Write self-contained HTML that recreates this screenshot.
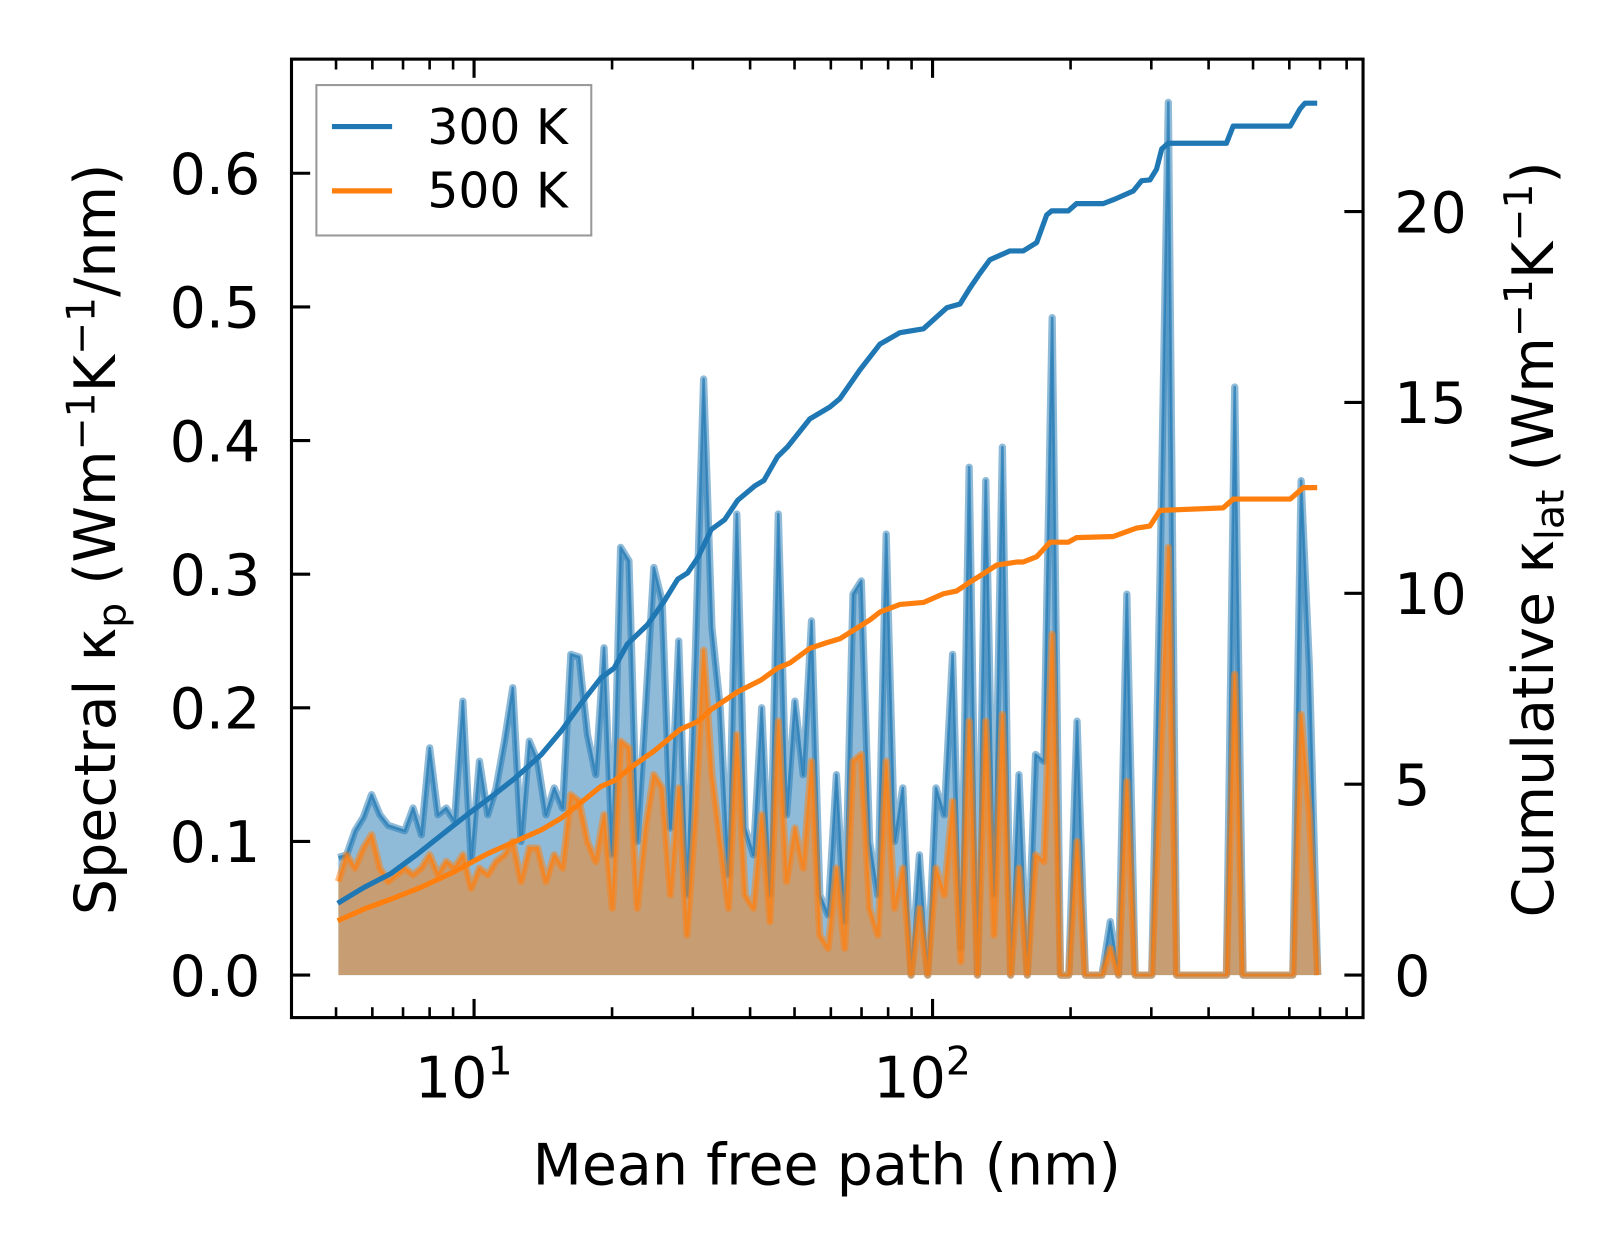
<!DOCTYPE html>
<html><head><meta charset="utf-8"><style>
html,body{margin:0;padding:0;background:#fff;}
svg{display:block;font-family:"DejaVu Sans","Liberation Sans",sans-serif;}
</style></head><body>
<svg id="chart" width="1623" height="1254" viewBox="0 0 1564.6 1208.9" preserveAspectRatio="none" xmlns="http://www.w3.org/2000/svg">
<rect x="0" y="0" width="1565" height="1209" fill="#fff"/>
<g id="plot"></g>
<g id="axes"></g>
<g>
<rect x="305" y="82" width="265" height="145" fill="#fff" stroke="#999" stroke-width="2"/>
<line x1="320" y1="122" x2="378" y2="122" stroke="#1f77b4" stroke-width="5"/>
<text x="412" y="139" font-size="47">300 K</text>
<line x1="320" y1="184" x2="378" y2="184" stroke="#ff7f0e" stroke-width="5"/>
<text x="412" y="200" font-size="47">500 K</text>
</g>
<text x="797" y="1142" font-size="55" text-anchor="middle">Mean free path (nm)</text>
<text transform="translate(111,520) rotate(-90)" font-size="55" text-anchor="middle">Spectral κ<tspan font-size="38" dy="10">p</tspan><tspan dy="-10"> (Wm</tspan><tspan font-size="38" dy="-20">−1</tspan><tspan dy="20">K</tspan><tspan font-size="38" dy="-20">−1</tspan><tspan dy="20">/nm)</tspan></text>
<text transform="translate(1497,520) rotate(-90)" font-size="55" text-anchor="middle">Cumulative κ<tspan font-size="38" dy="10">lat</tspan><tspan dy="-10"> (Wm</tspan><tspan font-size="38" dy="-20">−1</tspan><tspan dy="20">K</tspan><tspan font-size="38" dy="-20">−1</tspan><tspan dy="20">)</tspan></text>
</svg>
<script>
// ---- data ----
const mfpStart = 5.06, mfpEnd = 692, nBins = 119;
const spec300 = [0.088,0.090,0.108,0.118,0.135,0.120,0.112,0.110,0.108,0.125,0.105,0.170,0.120,0.125,0.115,0.205,0.085,0.160,0.120,0.140,0.175,0.215,0.100,0.175,0.160,0.120,0.140,0.125,0.240,0.238,0.180,0.150,0.245,0.090,0.320,0.310,0.100,0.200,0.305,0.280,0.110,0.250,0.060,0.240,0.446,0.260,0.200,0.075,0.345,0.110,0.090,0.200,0.060,0.345,0.120,0.205,0.150,0.265,0.060,0.045,0.150,0.040,0.285,0.295,0.100,0.060,0.330,0.100,0.140,0.000,0.090,0.000,0.140,0.120,0.240,0.020,0.380,0.000,0.370,0.060,0.395,0.000,0.150,0.000,0.165,0.160,0.492,0.000,0.000,0.190,0.000,0.000,0.000,0.040,0.000,0.285,0.000,0.000,0.000,0.300,0.653,0.000,0,0,0,0,0,0,0.440,0,0,0,0,0,0,0,0.370,0.230,0.000];
const spec500 = [0.070,0.090,0.080,0.095,0.105,0.080,0.070,0.075,0.080,0.075,0.080,0.090,0.075,0.085,0.080,0.090,0.065,0.080,0.075,0.085,0.090,0.100,0.070,0.095,0.095,0.070,0.090,0.080,0.135,0.130,0.100,0.085,0.120,0.050,0.175,0.170,0.050,0.110,0.150,0.140,0.060,0.140,0.030,0.120,0.243,0.150,0.100,0.050,0.180,0.060,0.050,0.120,0.040,0.190,0.070,0.110,0.080,0.160,0.030,0.020,0.080,0.020,0.160,0.165,0.050,0.030,0.160,0.050,0.080,0,0.050,0,0.080,0.060,0.130,0.010,0.190,0,0.190,0.030,0.195,0,0.080,0,0.090,0.085,0.255,0,0,0.100,0,0,0,0.020,0,0.145,0,0,0,0.150,0.320,0,0,0,0,0,0,0,0.225,0,0,0,0,0,0,0,0.195,0.120,0];
const cum300Mfp = [5.04,5.76,6.59,7.53,8.76,9.68,11.07,12.24,14.0,15.48,17.1,18.9,20.2,21.6,23.9,26.0,27.8,29.2,30.8,32.9,35.2,37.6,40.9,42.9,45.9,48.3,54.0,59.7,62.8,69.4,76.8,84.9,95.5,107.4,114.8,120.5,126.8,133.4,147.5,157.7,168.7,177.4,181.9,197.7,206.1,235.6,250,274,285.8,297.9,308,316,326.6,437.5,452.6,602.6,632.9,649,690];
const cum300 = [1.88,2.30,2.66,3.17,3.80,4.21,4.73,5.14,5.77,6.39,7.11,7.78,8.04,8.67,9.18,9.80,10.37,10.53,10.94,11.67,11.93,12.44,12.81,12.96,13.58,13.84,14.57,14.88,15.10,15.85,16.53,16.83,16.93,17.48,17.58,17.99,18.38,18.74,18.97,18.97,19.19,19.91,20.02,20.02,20.21,20.21,20.33,20.54,20.81,20.83,21.11,21.64,21.79,21.79,22.24,22.24,22.69,22.84,22.84];
const cum500Mfp = [5.04,5.76,6.59,7.66,9.06,10.7,12.24,14.0,15.48,17.1,18.9,20.2,22.4,24.7,28.2,30.8,32.9,37.6,42.3,45.9,48.9,54.0,58.8,62.8,68.2,73.1,76.8,84.9,95.5,105.6,112.8,120.5,129,138,152.6,157.7,168.7,180.3,197.7,206.1,248,278.6,297.9,313.3,430.5,452.6,602.6,643.7,690];
const cum500 = [1.42,1.73,1.99,2.30,2.71,3.18,3.49,3.80,4.11,4.52,4.94,5.09,5.51,5.87,6.44,6.64,6.96,7.42,7.73,8.04,8.18,8.56,8.71,8.81,9.08,9.31,9.51,9.71,9.76,9.99,10.06,10.29,10.51,10.74,10.82,10.82,10.96,11.34,11.34,11.46,11.49,11.71,11.76,12.17,12.24,12.47,12.47,12.77,12.77];
const yTicksL = [0.0,0.1,0.2,0.3,0.4,0.5,0.6];
const yTicksR = [0,5,10,15,20];
const xMajor = [10,100];

// ---- axes ----
const L=281,R=1314,T=57,B=981;
const X = v => 457 + (Math.log10(v)-1)*442;
const YL = v => 940 - v*1288.3;
const YR = v => 940 - v*36.8;
const NS="http://www.w3.org/2000/svg";
function mk(tag, attrs, parent){const e=document.createElementNS(NS,tag);for(const k in attrs)e.setAttribute(k,attrs[k]);parent.appendChild(e);return e;}
const plot=document.getElementById('plot'), axes=document.getElementById('axes');
const mfp=[];
for(let i=0;i<nBins;i++) mfp.push(Math.pow(10, Math.log10(mfpStart)+i*(Math.log10(mfpEnd)-Math.log10(mfpStart))/(nBins-1)));

function spectral(vals,color,name){
  let d='M'+X(mfp[0])+','+YL(0);
  vals.forEach((v,i)=>{d+=' L'+X(mfp[i]).toFixed(1)+','+YL(v).toFixed(1);});
  d+=' L'+X(mfp[vals.length-1])+','+YL(0)+' Z';
  const a=mk('path',{d:d,fill:color,'fill-opacity':0.5,stroke:'none'},plot);
  
  
  let l='';
  vals.forEach((v,i)=>{l+=(i?' L':'M')+X(mfp[i]).toFixed(1)+','+YL(v).toFixed(1);});
  const p=mk('path',{d:l,fill:'none',stroke:color,'stroke-opacity':0.5,'stroke-width':7,'stroke-linejoin':'round'},plot);
  
  
  const p2=mk('path',{d:l,fill:'none',stroke:color,'stroke-opacity':0.7,'stroke-width':2.5,'stroke-linejoin':'round'},plot);
  
  
}
spectral(spec300,'#1f77b4','spectral-300k');
spectral(spec500,'#ff7f0e','spectral-500k');
function cum(xs,vals,color,name){
  let l='';
  vals.forEach((v,i)=>{l+=(i?' L':'M')+X(xs[i]).toFixed(1)+','+YR(v).toFixed(1);});
  const p=mk('path',{d:l,fill:'none',stroke:color,'stroke-width':5,'stroke-linejoin':'round'},plot);
  
  
}
cum(cum300Mfp,cum300,'#1f77b4','cumulative-300k');
cum(cum500Mfp,cum500,'#ff7f0e','cumulative-500k');

const fr=mk('rect',{x:L,y:T,width:R-L,height:B-T,fill:'none',stroke:'#000','stroke-width':3},axes);


yTicksL.forEach(v=>{
  const y=YL(v);
  const t=mk('line',{x1:L,y1:y,x2:L+18,y2:y,stroke:'#000','stroke-width':3},axes);
  
  
  const tx=mk('text',{x:L-30,y:y+20,'font-size':55,'text-anchor':'end'},axes);
  tx.textContent=v.toFixed(1);
  
  
});
yTicksR.forEach(v=>{
  const y=YR(v);
  const t=mk('line',{x1:R-18,y1:y,x2:R,y2:y,stroke:'#000','stroke-width':3},axes);
  
  
  const tx=mk('text',{x:R+30,y:y+20,'font-size':55,'text-anchor':'start'},axes);
  tx.textContent=String(v);
  
  
});
for(let dec=1;dec<=100;dec*=10){
  for(let m=1;m<10;m++){
    const v=dec*m; const x=X(v);
    if(x<L||x>R) continue;
    const len=(m===1)?18:10;
    const t1=mk('line',{x1:x,y1:B,x2:x,y2:B-len,stroke:'#000','stroke-width':(m===1)?3:2.5},axes);
    
    
    const t2=mk('line',{x1:x,y1:T,x2:x,y2:T+len,stroke:'#000','stroke-width':(m===1)?3:2.5},axes);
    
    
  }
}
xMajor.forEach(v=>{
  const x=X(v);
  const tx=mk('text',{x:x-10,y:1058,'font-size':55,'text-anchor':'middle'},axes);
  
  
  tx.textContent='10';
  const s=mk('tspan',{'font-size':38,dy:-22},tx);
  s.textContent=String(Math.round(Math.log10(v)));
});
</script>
</body></html>
